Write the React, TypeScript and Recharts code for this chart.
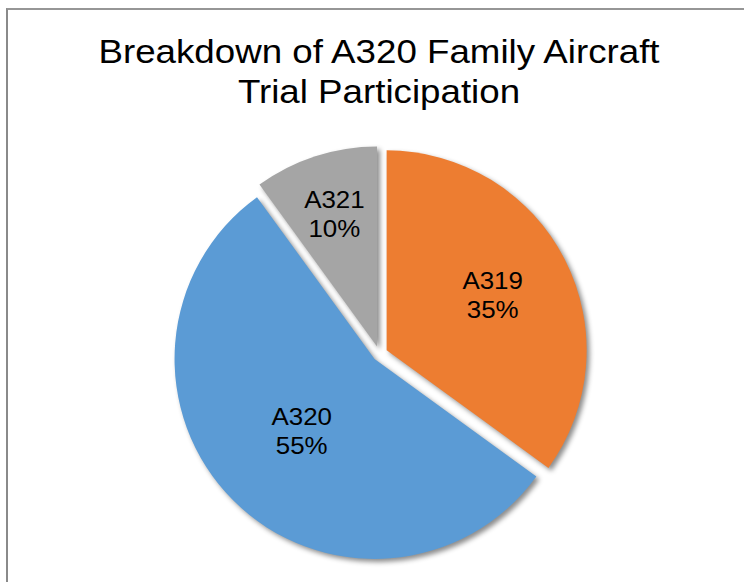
import { PieChart, Pie, Cell } from 'recharts'

const models = ['A319', 'A320', 'A321']
const shares = [35, 55, 10]
const colors = ['#ED7D31', '#5B9BD5', '#A5A5A5']

// how far each slice is pulled out, and where its label sits (distance from slice apex)
const explode = [8, 7, 8]
const labelRadius = [119, 103, 138]

const data = models.map((name, i) => ({ name, value: shares[i] }))

const RADIAN = Math.PI / 180
const START = 90
const END = -270
const FONT = '"Liberation Sans", Arial, sans-serif'
const STRETCH = 1.08

function midAngles(): number[] {
  const total = shares.reduce((a, b) => a + b, 0)
  let acc = 0
  return shares.map((v) => {
    const a0 = START + ((END - START) * acc) / total
    acc += v
    const a1 = START + ((END - START) * acc) / total
    return (a0 + a1) / 2
  })
}

const mids = midAngles()

function offsetOf(i: number) {
  const a = -mids[i] * RADIAN
  return { dx: explode[i] * Math.cos(a), dy: explode[i] * Math.sin(a) }
}

function renderLabel(props: any) {
  const { cx, cy, midAngle, index, name, percent } = props
  const { dx, dy } = offsetOf(index)
  const r = labelRadius[index]
  const x = cx + dx + r * Math.cos(-midAngle * RADIAN)
  const y = cy + dy + r * Math.sin(-midAngle * RADIAN)
  return (
    <text
      transform={`translate(${x},${y}) scale(${STRETCH},1)`}
      textAnchor="middle"
      fontFamily={FONT}
      fontSize={24}
      fill="#000"
    >
      <tspan x={0} y={-7}>{name}</tspan>
      <tspan x={0} y={22}>{`${Math.round(percent * 100)}%`}</tspan>
    </text>
  )
}

export default function App() {
  return (
    <div style={{ position: 'fixed', left: 0, top: 0, width: 744, height: 582, overflow: 'hidden', background: '#fff' }}>
      <div
        style={{
          position: 'absolute',
          left: 6,
          top: 8,
          width: 800,
          height: 700,
          borderLeft: '2px solid #8a8a8a',
          borderTop: '2px solid #969696',
        }}
      />
      <svg width={744} height={130} style={{ position: 'absolute', left: 0, top: 0 }}>
        <text transform={`translate(379,63) scale(${STRETCH},1)`} textAnchor="middle" fontFamily={FONT} fontSize={34} fill="#000">
          Breakdown of A320 Family Aircraft
        </text>
        <text transform={`translate(379,103) scale(${STRETCH},1)`} textAnchor="middle" fontFamily={FONT} fontSize={34} fill="#000">
          Trial Participation
        </text>
      </svg>
      <div style={{ position: 'absolute', left: 0, top: 0 }}>
        <PieChart width={744} height={582} margin={{ top: 0, right: 0, bottom: 0, left: 0 }}>
          <Pie
            data={data}
            dataKey="value"
            nameKey="name"
            cx={379.5}
            cy={354}
            outerRadius={200}
            startAngle={START}
            endAngle={END}
            stroke="none"
            labelLine={false}
            label={renderLabel}
            isAnimationActive={false}
          >
            {data.map((d, i) => {
              const { dx, dy } = offsetOf(i)
              return (
                <Cell
                  key={d.name}
                  fill={colors[i]}
                  style={{
                    transform: `translate(${dx}px, ${dy}px)`,
                    filter: 'drop-shadow(3px 3px 2.5px rgba(0,0,0,0.45))',
                  }}
                />
              )
            })}
          </Pie>
        </PieChart>
      </div>
    </div>
  )
}
